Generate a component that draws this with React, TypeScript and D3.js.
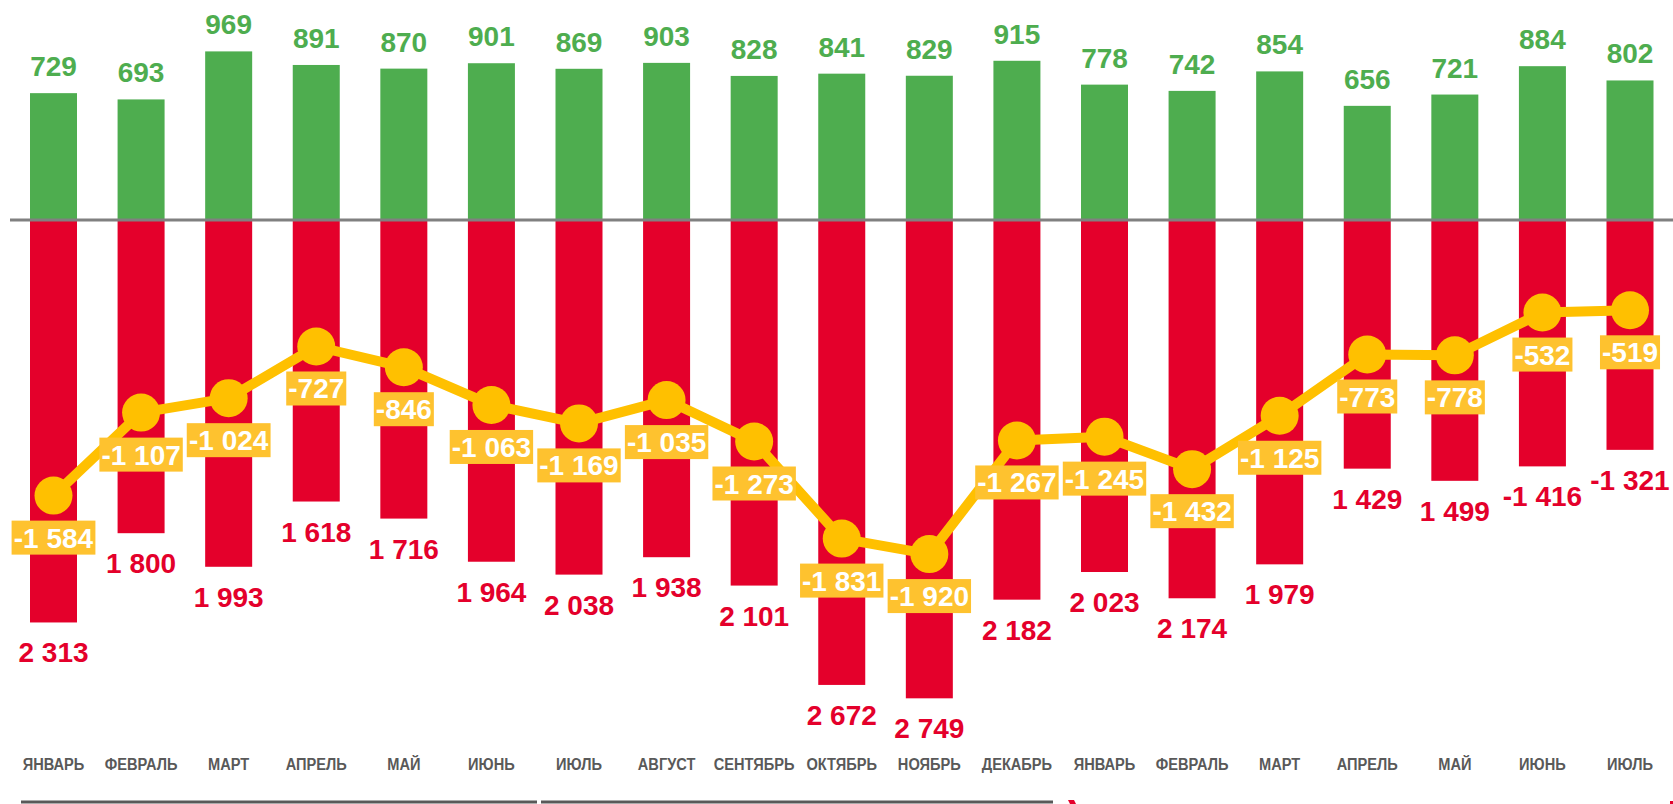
import * as d3 from 'd3';
import { useEffect, useRef } from 'react';

const months = ['ЯНВАРЬ', 'ФЕВРАЛЬ', 'МАРТ', 'АПРЕЛЬ', 'МАЙ', 'ИЮНЬ', 'ИЮЛЬ', 'АВГУСТ', 'СЕНТЯБРЬ', 'ОКТЯБРЬ', 'НОЯБРЬ', 'ДЕКАБРЬ', 'ЯНВАРЬ', 'ФЕВРАЛЬ', 'МАРТ', 'АПРЕЛЬ', 'МАЙ', 'ИЮНЬ', 'ИЮЛЬ'];
const income = [729, 693, 969, 891, 870, 901, 869, 903, 828, 841, 829, 915, 778, 742, 854, 656, 721, 884, 802];
const outflow = [2313, 1800, 1993, 1618, 1716, 1964, 2038, 1938, 2101, 2672, 2749, 2182, 2023, 2174, 1979, 1429, 1499, 1416, 1321];
// as printed under the red bars (the last two carry a minus sign in the original)
const outflowLabels = ['2 313', '1 800', '1 993', '1 618', '1 716', '1 964', '2 038', '1 938', '2 101', '2 672', '2 749', '2 182', '2 023', '2 174', '1 979', '1 429', '1 499', '-1 416', '-1 321'];
const balance = [-1584, -1107, -1024, -727, -846, -1063, -1169, -1035, -1273, -1831, -1920, -1267, -1245, -1432, -1125, -773, -778, -532, -519];

const GREEN = '#4EAD4F';
const RED = '#E4002B';
const YELLOW = '#FFC000';
const BOX = '#FEC22F';

const fmt = (v: number) => {
  const s = Math.abs(v).toString().replace(/\B(?=(\d{3})+(?!\d))/g, ' ');
  return (v < 0 ? '-' : '') + s;
};

export default function App() {
  const svgRef = useRef<SVGSVGElement>(null);

  useEffect(() => {
    const w = 1673;
    const h = 804;
    const svg = d3.select(svgRef.current);
    svg.selectAll('*').remove();
    svg.attr('width', w).attr('height', h);

    const font = "'Liberation Sans', Arial, sans-serif";

    // x: bar centres
    const x = d3.scalePoint<number>()
      .domain(months.map((_, i) => i))
      .range([53.5, 1630]);
    const bw = 47;

    // y: same scale for bars and the balance line
    const y = d3.scaleLinear().domain([1000, -3000]).range([46, 742]);

    // green bars
    svg.append('g').selectAll('rect')
      .data(income)
      .enter().append('rect')
      .attr('x', (_, i) => x(i)! - bw / 2)
      .attr('y', d => y(d))
      .attr('width', bw)
      .attr('height', d => y(0) - y(d))
      .attr('fill', GREEN);

    // red bars
    svg.append('g').selectAll('rect')
      .data(outflow)
      .enter().append('rect')
      .attr('x', (_, i) => x(i)! - bw / 2)
      .attr('y', y(0))
      .attr('width', bw)
      .attr('height', d => y(-d) - y(0))
      .attr('fill', RED);

    // zero line
    svg.append('line')
      .attr('x1', 10).attr('x2', w)
      .attr('y1', y(0)).attr('y2', y(0))
      .attr('stroke', '#808080')
      .attr('stroke-width', 3);

    // green labels
    svg.append('g').selectAll('text')
      .data(income)
      .enter().append('text')
      .attr('x', (_, i) => x(i)!)
      .attr('y', d => y(d) - 17)
      .attr('text-anchor', 'middle')
      .attr('fill', GREEN)
      .style('font', `bold 28px ${font}`)
      .text(d => fmt(d));

    // red labels
    svg.append('g').selectAll('text')
      .data(outflow)
      .enter().append('text')
      .attr('x', (_, i) => x(i)!)
      .attr('y', d => y(-d) + 40)
      .attr('text-anchor', 'middle')
      .attr('fill', RED)
      .style('font', `bold 28px ${font}`)
      .text((_, i) => outflowLabels[i]);

    // balance line
    const line = d3.line<number>()
      .x((_, i) => x(i)!)
      .y(d => y(d));
    svg.append('path')
      .datum(balance)
      .attr('d', line)
      .attr('fill', 'none')
      .attr('stroke', YELLOW)
      .attr('stroke-width', 10)
      .attr('stroke-linejoin', 'round');

    svg.append('g').selectAll('circle')
      .data(balance)
      .enter().append('circle')
      .attr('cx', (_, i) => x(i)!)
      .attr('cy', d => y(d))
      .attr('r', 19)
      .attr('fill', YELLOW);

    // balance labels in boxes
    const lab = svg.append('g').selectAll('g')
      .data(balance)
      .enter().append('g')
      .attr('transform', (d, i) => `translate(${x(i)},${y(d) + 42})`);
    const txt = lab.append('text')
      .attr('text-anchor', 'middle')
      .attr('dy', 10)
      .attr('fill', '#fff')
      .style('font', `bold 28px ${font}`)
      .text(d => fmt(d));
    txt.each(function () {
      const bb = (this as SVGTextElement).getBBox();
      d3.select((this as SVGTextElement).parentNode as SVGGElement)
        .insert('rect', 'text')
        .attr('x', -bb.width / 2 - 2)
        .attr('y', -17)
        .attr('width', bb.width + 4)
        .attr('height', 34)
        .attr('fill', BOX);
    });

    // month labels (condensed look, like Arial Narrow)
    svg.append('g').selectAll('text')
      .data(months)
      .enter().append('text')
      .attr('transform', (_, i) => `translate(${x(i)},770) scale(0.86,1)`)
      .attr('text-anchor', 'middle')
      .attr('fill', '#595959')
      .style('font', `bold 17px ${font}`)
      .text(d => d);

    // timeline strip at the bottom edge
    svg.append('line').attr('x1', 21).attr('x2', 537).attr('y1', 802).attr('y2', 802)
      .attr('stroke', '#595959').attr('stroke-width', 3);
    svg.append('line').attr('x1', 541).attr('x2', 1053).attr('y1', 802).attr('y2', 802)
      .attr('stroke', '#595959').attr('stroke-width', 3);
    svg.append('path').attr('d', 'M1068,800 L1074,800 L1076,804 L1070,804 Z').attr('fill', RED);
    svg.append('rect').attr('x', 1670).attr('y', 801).attr('width', 3).attr('height', 3).attr('fill', RED);
  }, []);

  return (
    <svg ref={svgRef} style={{ position: 'absolute', left: 0, top: 0, background: '#fff' }}></svg>
  );
}
